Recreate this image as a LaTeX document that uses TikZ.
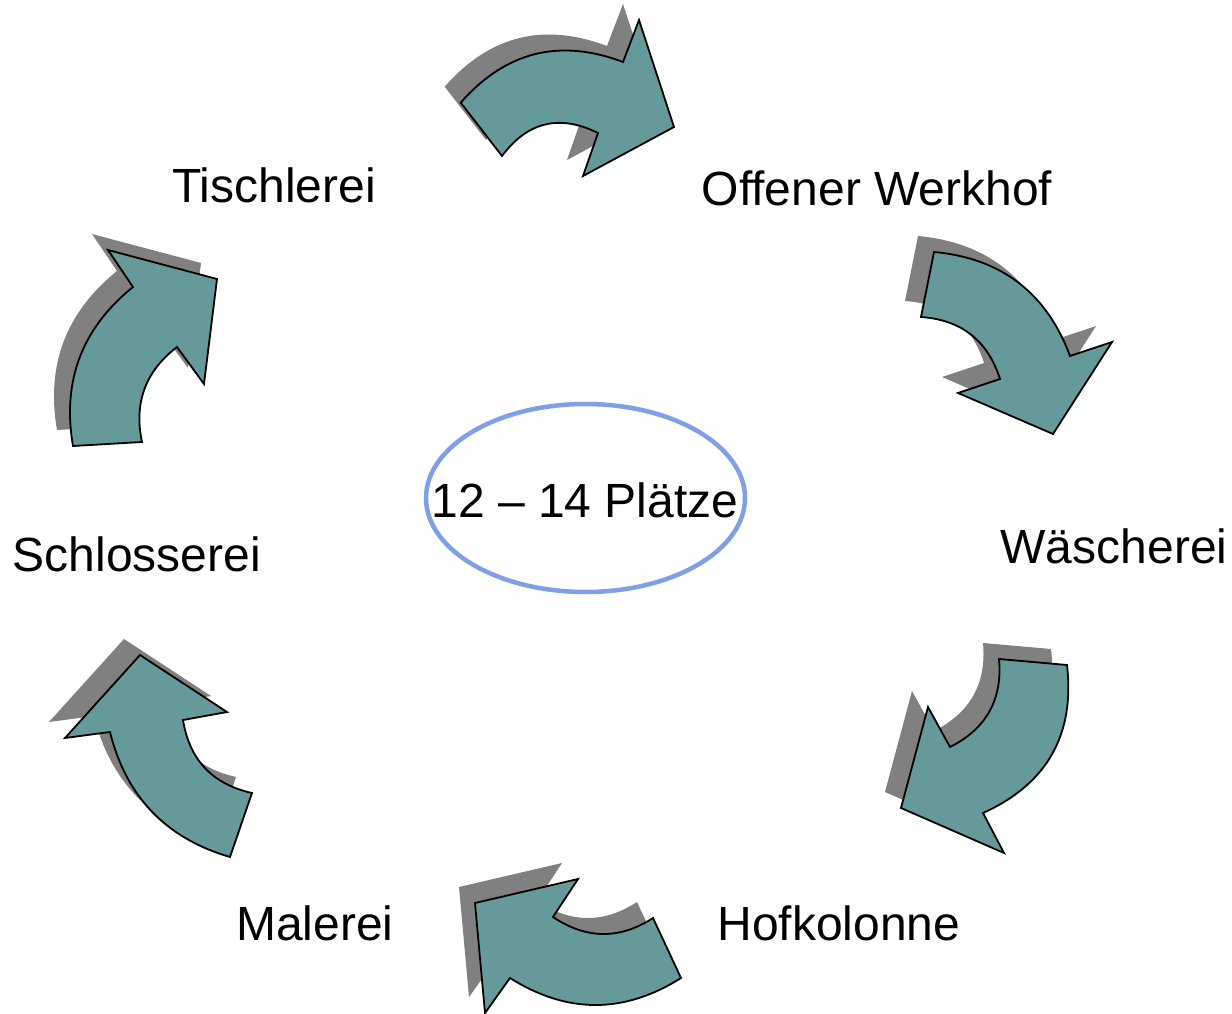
\documentclass[tikz,border=0pt]{standalone}
\usepackage{fontspec}
\setmainfont{Liberation Sans}
\usetikzlibrary{shapes.geometric,calc}
\definecolor{arrowteal}{HTML}{669999}
\definecolor{shadowgray}{HTML}{808080}
\definecolor{ellblue}{HTML}{7F9FE6}
\newcommand\curvedarrow[1]{%
  \fill[shadowgray,shift={(-16,-16)}] #1;
  \filldraw[fill=arrowteal,draw=black,line width=1.8pt,line join=miter] #1;}
\tikzset{
  lbl/.style={font=\fontsize{48}{57}\selectfont, inner sep=0pt, anchor=base},
}
\begin{document}
\begin{tikzpicture}[x=1pt,y=-1pt]
\useasboundingbox[fill=white] (0,0) rectangle (1232,1014);

% top arrow (Tischlerei -> Offener Werkhof)
\curvedarrow{(460.7,102.7) .. controls ($(460.7,102.7)!2/3!(527.9,26)$) and ($(623,62)!2/3!(527.9,26)$) .. (623,62)
  -- (639,20) -- (674,127) -- (583,176) -- (598,133)
  .. controls ($(598,133)!2/3!(540.4,104.5)$) and ($(502,156)!2/3!(540.4,104.5)$) .. (502,156) -- cycle}

% right upper arrow
\curvedarrow{(934,252) .. controls ($(934,252)!2/3!(1034.8,261.2)$) and ($(1070,356)!2/3!(1034.8,261.2)$) .. (1070,356)
  -- (1112,342) -- (1053,434) -- (958,393) -- (1000,379)
  .. controls ($(1000,379)!2/3!(981.5,321.2)$) and ($(921,317)!2/3!(981.5,321.2)$) .. (921,317) -- cycle}

% right lower arrow
\curvedarrow{(1067,665) .. controls ($(1067,665)!2/3!(1079,769.6)$) and ($(983,813)!2/3!(1079,769.6)$) .. (983,813)
  -- (1004,853) -- (901,808) -- (928,707) -- (950,747)
  .. controls ($(950,747)!2/3!(1004.5,719.6)$) and ($(999,659)!2/3!(1004.5,719.6)$) .. (999,659) -- cycle}

% bottom arrow
\curvedarrow{(681,978) .. controls ($(681,978)!2/3!(595.5,1032)$) and ($(510,978)!2/3!(595.5,1032)$) .. (510,978)
  -- (485,1013) -- (475,903) -- (578,879) -- (553,917)
  .. controls ($(553,917)!2/3!(603,950.5)$) and ($(653,918)!2/3!(603,950.5)$) .. (653,918) -- cycle}

% left lower arrow
\curvedarrow{(230,857) .. controls ($(230,857)!2/3!(134,829)$) and ($(110,732)!2/3!(134,829)$) .. (110,732)
  -- (65,738) -- (140,655) -- (227,712) -- (183,720)
  .. controls ($(183,720)!2/3!(192.7,779.9)$) and ($(252,793)!2/3!(192.7,779.9)$) .. (252,793) -- cycle}

% left upper arrow
\curvedarrow{(73,446) .. controls ($(73,446)!2/3!(56.2,348.9)$) and ($(133,287)!2/3!(56.2,348.9)$) .. (133,287)
  -- (108,250) -- (217,279) -- (204,384) -- (177,347)
  .. controls ($(177,347)!2/3!(129.5,383.5)$) and ($(142,442)!2/3!(129.5,383.5)$) .. (142,442) -- cycle}

% centre ellipse
\node[ellipse, draw=ellblue, line width=4.5pt, minimum width=319pt, minimum height=188pt, inner sep=0pt] (ring) at (585.5,498) {};
\node[lbl] (places) at (585,517) {12 – 14 Plätze};

% labels
\node[lbl] (tisch) at (274,203) {Tischlerei};
\node[lbl] (werkhof) at (877,205) {Offener Werkhof};
\node[lbl] (waesch) at (1114,563) {Wäscherei};
\node[lbl] (schloss) at (137,571) {Schlosserei};
\node[lbl] (maler) at (315,940) {Malerei};
\node[lbl] (hof) at (839,940) {Hofkolonne};
\end{tikzpicture}
\end{document}
